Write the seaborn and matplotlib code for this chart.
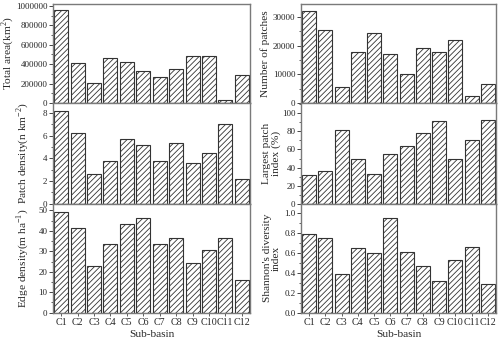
import matplotlib
matplotlib.use("Agg")
import matplotlib.pyplot as plt
import seaborn as sns
import pandas as pd
from matplotlib.ticker import MultipleLocator, FuncFormatter

sns.set_theme(style="white")
plt.rcParams['font.family'] = ['Liberation Serif', 'DejaVu Serif']
plt.rcParams['mathtext.fontset'] = 'custom'
plt.rcParams['mathtext.rm'] = 'Liberation Serif'
plt.rcParams['hatch.color'] = '#333333'
plt.rcParams['hatch.linewidth'] = 0.6

categories = ["C1", "C2", "C3", "C4", "C5", "C6", "C7", "C8", "C9", "C10", "C11", "C12"]
total_area = [955000, 410000, 210000, 465000, 425000, 330000, 270000, 355000, 485000, 485000, 35000, 285000]
num_patches = [32100, 25400, 5700, 17700, 24400, 17100, 10200, 19100, 17800, 21900, 2500, 6500]
patch_density = [8.2, 6.2, 2.65, 3.75, 5.65, 5.15, 3.72, 5.38, 3.62, 4.45, 6.98, 2.2]
largest_patch = [31.5, 36.5, 81.0, 50.0, 33.3, 54.6, 63.5, 78.0, 92.0, 49.2, 70.2, 92.6]
edge_density = [49.2, 41.3, 22.9, 33.8, 43.3, 46.3, 33.5, 36.6, 24.1, 30.5, 36.3, 16.2]
shannon = [0.79, 0.75, 0.39, 0.65, 0.60, 0.95, 0.61, 0.47, 0.32, 0.53, 0.66, 0.29]

W, H = 500, 342
fig = plt.figure(figsize=(W / 100, H / 100), dpi=100)

def rect(x0, y0, x1, y1):
    return [x0 / W, 1 - y1 / H, (x1 - x0) / W, (y1 - y0) / H]

panels = [
    # data, ylabel, ylim, major, minor, rect, label x (axes coords, right edge of rotated text)
    (total_area, "Total area(km$^2$)", 1.02e6, 200000, 100000, rect(53, 4, 250, 103), -0.19),
    (num_patches, "Number of patches", 34600, 10000, 5000, rect(301, 4, 496, 103), -0.16),
    (patch_density, "Patch density(n km$^{-2}$)", 8.86, 2, 1, rect(53, 103, 250, 203.7), -0.11),
    (largest_patch, "Largest patch\nindex (%)", 111.4, 20, 10, rect(301, 103, 496, 203.7), -0.105),
    (edge_density, "Edge density(m ha$^{-1}$)", 53.3, 10, 5, rect(53, 203.7, 250, 312.7), -0.11),
    (shannon, "Shannon's diversity\nindex", 1.097, 0.2, 0.1, rect(301, 203.7, 496, 312.7), -0.105),
]

spine_col = '#7a7a7a'
for i, (vals, lab, ymax, maj, mnr, r, lx) in enumerate(panels):
    ax = fig.add_axes(r)
    df = pd.DataFrame({"cat": categories, "val": vals})
    sns.barplot(data=df, x="cat", y="val", ax=ax, color="white", width=0.85,
                edgecolor="#333333", linewidth=0.8, hatch="//////", saturation=1)
    ax.set_xlim(-0.5, 11.5)
    ax.set_ylim(0, ymax)
    ax.yaxis.set_major_locator(MultipleLocator(maj))
    ax.yaxis.set_minor_locator(MultipleLocator(mnr))
    for s in ax.spines.values():
        s.set_color(spine_col)
        s.set_linewidth(1.0)
    ax.tick_params(axis='y', which='major', direction='out', length=3, width=0.7,
                   color='#444444', labelsize=6.5, pad=1, left=True)
    ax.tick_params(axis='y', which='minor', direction='out', length=1.8, width=0.6,
                   color='#444444', left=True)
    ax.tick_params(axis='x', which='major', direction='out', length=2.5, width=0.6,
                   color='#444444', labelsize=7.2, pad=1.5, bottom=True)
    ax.set_ylabel(lab, fontsize=8.2, linespacing=1.0)
    ax.yaxis.set_label_coords(lx, 0.5)
    if i >= 4:
        ax.set_xlabel("Sub-basin", fontsize=8.2, labelpad=2)
    else:
        ax.set_xlabel("")
        ax.set_xticklabels([])
    if i == 0:
        ax.yaxis.set_major_formatter(FuncFormatter(lambda v, p: f"{int(round(v))}"))
    if i == 5:
        ax.yaxis.set_major_formatter(FuncFormatter(lambda v, p: f"{v:.1f}"))

fig.savefig("out.png", dpi=100)
